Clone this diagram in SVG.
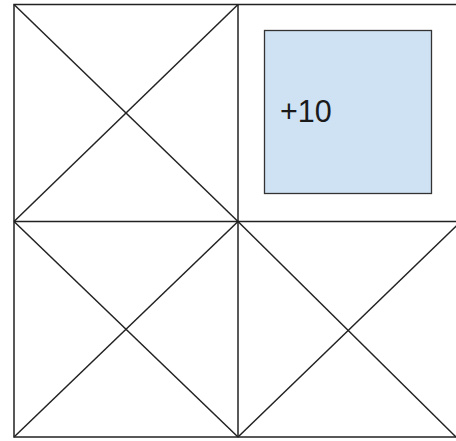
<svg xmlns="http://www.w3.org/2000/svg" width="456" height="441" viewBox="0 0 456 441">
<style>
.ln{stroke:#222222;stroke-width:1.5;fill:none}
.box{fill:#cfe2f3;stroke:#333333;stroke-width:1.3}
.lbl{font-family:"Liberation Sans",Arial,sans-serif;font-size:30.5px;fill:#1a1a1a}
</style>
<rect width="456" height="441" fill="#ffffff"/>
<g id="connectors">
<rect class="ln" x="14" y="4.5" width="445" height="432.5"/>
<line class="ln" x1="238" y1="4.5" x2="238" y2="437"/>
<line class="ln" x1="14" y1="221.5" x2="459" y2="221.5"/>
<line class="ln" x1="14" y1="4.5" x2="238" y2="221.5"/>
<line class="ln" x1="238" y1="4.5" x2="14" y2="221.5"/>
<line class="ln" x1="14" y1="221.5" x2="238" y2="437"/>
<line class="ln" x1="238" y1="221.5" x2="14" y2="437"/>
<line class="ln" x1="238" y1="221.5" x2="456" y2="437"/>
<line class="ln" x1="461" y1="221.5" x2="238" y2="437"/>
</g>
<g id="node-plus10">
<rect class="box" x="264.5" y="30.5" width="167" height="163"/>
<text class="lbl" x="280" y="122">+10</text>
</g>
</svg>
